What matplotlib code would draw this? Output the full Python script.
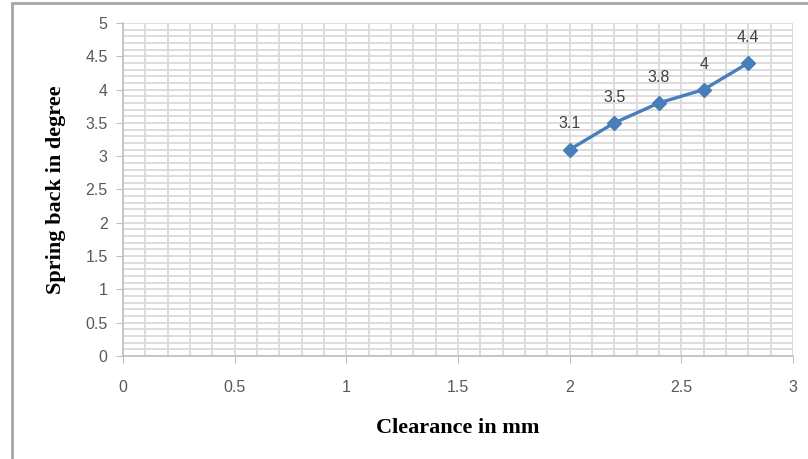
import numpy as np
import matplotlib.pyplot as plt
from matplotlib.ticker import MultipleLocator, FuncFormatter
from matplotlib.patches import Rectangle

# dados
clearance = [2.0, 2.2, 2.4, 2.6, 2.8]
spring_back = [3.1, 3.5, 3.8, 4.0, 4.4]
point_labels = ['3.1', '3.5', '3.8', '4', '4.4']

fig = plt.figure(figsize=(8.08, 4.59), dpi=100)

# moldura da figura (cinza, canto superior esquerdo)
fig.patches.append(Rectangle((12 / 808, -0.1), 1.2, 1.1 - 3 / 459, transform=fig.transFigure,
                             fill=False, edgecolor='#a6a6a6', linewidth=2.0))

ax = fig.add_axes([123 / 808, 1 - 356 / 459, 670 / 808, 333 / 459])

ax.set_xlim(0, 3)
ax.set_ylim(0, 5)
ax.xaxis.set_major_locator(MultipleLocator(0.5))
ax.yaxis.set_major_locator(MultipleLocator(0.5))
ax.xaxis.set_minor_locator(MultipleLocator(0.1))
ax.yaxis.set_minor_locator(MultipleLocator(0.1))
fmt = FuncFormatter(lambda v, p: '%g' % v)
ax.xaxis.set_major_formatter(fmt)
ax.yaxis.set_major_formatter(fmt)

ax.grid(which='both', color='#dadada', linewidth=1.3)
ax.set_axisbelow(True)

for side in ['top', 'right']:
    ax.spines[side].set_visible(False)
for side in ['left', 'bottom']:
    ax.spines[side].set_color('#bfbfbf')
    ax.spines[side].set_linewidth(1.2)

ax.tick_params(which='major', length=5, color='#bfbfbf', labelsize=11.5,
               labelcolor='#595959', pad=6)
ax.tick_params(which='minor', length=0)
for lab in ax.get_xticklabels() + ax.get_yticklabels():
    lab.set_family('Liberation Sans')
ax.tick_params(axis='x', pad=12)

ax.plot(clearance, spring_back, color='#4a7ebb', linewidth=2.4, marker='D',
        markersize=7, clip_on=False)

for x, y, t in zip(clearance, spring_back, point_labels):
    ax.annotate(t, (x, y), xytext=(0, 13), textcoords='offset points', ha='center',
                va='bottom', fontsize=11.5, color='#404040', family='Liberation Sans')

ax.set_xlabel('Clearance in mm', fontsize=16, fontweight='bold', family='Liberation Serif',
              labelpad=17)
ax.set_ylabel('Spring back in degree', fontsize=16, fontweight='bold', family='Liberation Serif',
              labelpad=14)

fig.savefig('out.png', dpi=100)
